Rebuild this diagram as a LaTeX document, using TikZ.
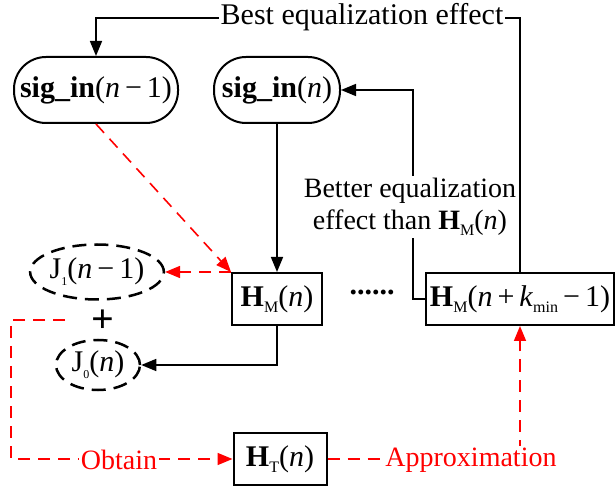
\documentclass[tikz,border=0pt]{standalone}
\usepackage{fontspec}
\setmainfont{Liberation Serif}
\usetikzlibrary{arrows.meta,shapes.geometric}
\definecolor{rred}{RGB}{255,0,0}
\newcommand{\nn}{\textit{n}}
\newcommand{\sbs}[1]{\raisebox{-0.45ex}{\fontsize{16}{16}\selectfont #1}}
\newcommand{\sbj}[1]{\raisebox{-0.5ex}{\fontsize{12}{12}\selectfont #1}}
\tikzset{
  every node/.style={font=\fontsize{30}{34}\selectfont, inner sep=0pt},
  stad/.style={draw, line width=2pt, rounded corners=32pt, minimum height=66pt},
  boxn/.style={draw, line width=2pt, minimum height=52pt},
  jell/.style={draw, ellipse, line width=2.5pt, dash pattern=on 14pt off 8pt},
  blk/.style={line width=1.6pt, -{Triangle[length=15pt,width=12pt]}},
  rarr/.style={rred, line width=1.6pt, dash pattern=on 12pt off 8pt, -{Triangle[length=15pt,width=12pt]}},
  lbl/.style={fill=white, inner sep=2pt},
  small/.style={font=\fontsize{28}{32}\selectfont},
}
\begin{document}
\begin{tikzpicture}[x=1pt,y=-1pt]
\useasboundingbox (0,0) rectangle (616,486);
% nodes
\node[stad, minimum width=164pt] (s1) at (96,90) {\textbf{sig\_in}(\nn\,−\,1)};
\node[stad, minimum width=126pt] (s2) at (277,90) {\textbf{sig\_in}(\nn)};
\node[boxn, minimum width=90pt] (hm) at (277,299) {\textbf{H}\sbs{M}(\nn)};
\node[boxn, minimum width=188pt] (hk) at (520,299) {\textbf{H}\sbs{M}(\nn\,{+}\,\textit{k}\sbs{min}\,−\,1)};
\node[boxn, minimum width=93pt] (ht) at (280,459) {\textbf{H}\sbs{T}(\nn)};
\node[jell, minimum width=104pt, minimum height=55pt] (j1) at (97,272) {J\sbj{1}(\nn\,−\,1)};
\node[jell, minimum width=84pt, minimum height=50pt] (j0) at (98,365) {J\sbj{0}(\nn)};
\node[font=\bfseries\fontsize{40}{40}\selectfont] (plus) at (103,321) {+};
\node[font=\bfseries\fontsize{30}{34}\selectfont] (dots) at (372,292) {......};
\coordinate (tr) at (520,18);
\coordinate (pl) at (65,320);
\coordinate (lc) at (11,320);
% black connectors
\draw[blk] (hk.north) -- (tr) -| (s1.north);
\node[lbl] (best) at (362,17) {Best equalization effect};
\draw[blk] (hk.west) -- ++(-12,0) |- (s2.east);
\node[lbl, small, align=center] (better) at (410,207) {Better equalization\\effect than \textbf{H}\sbs{M}(\nn)};
\draw[blk] (s2.south) -- (hm.north);
\draw[blk] (hm.south) |- (j0.east);
% red connectors
\draw[rarr] (s1.south) -- (hm.north west);
\draw[rarr] (hm.north west) -- (j1.east);
\draw[rarr] (pl) -- (lc) |- (ht.west);
\node[lbl, small, text=rred] (obtain) at (119,460) {Obtain};
\draw[rarr] (ht.east) -| (hk.south);
\node[lbl, small, text=rred] (approx) at (471,460) {Approximation};
\end{tikzpicture}
\end{document}
